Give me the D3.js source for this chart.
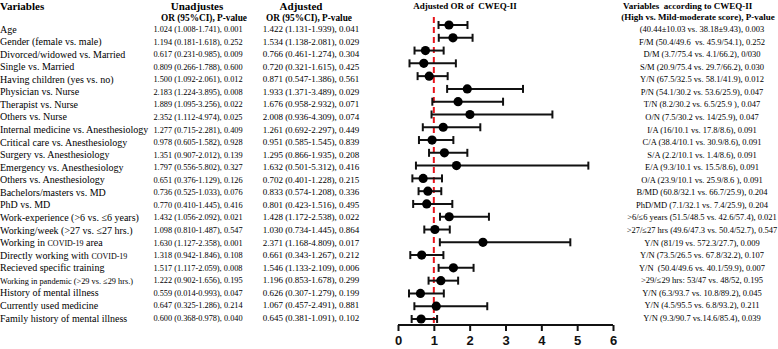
<!DOCTYPE html>
<html>
<head>
<meta charset="utf-8">
<script src="https://cdn.jsdelivr.net/npm/d3@7"></script>
<style>
  body { margin: 0; background: #fff; }
  svg { font-family: "Liberation Serif", "Times New Roman", serif; }
  text { white-space: pre; }
</style>
</head>
<body>
<script>
// table rows, top to bottom
var variables = [
    "Age", "Gender (female vs. male)", "Divorced/widowed vs. Married",
    "Single vs. Married", "Having children (yes vs. no)",
    "Physician vs. Nurse", "Therapist vs. Nurse", "Others vs. Nurse",
    "Internal medicine vs. Anesthesiology", "Critical care vs. Anesthesiology",
    "Surgery vs. Anesthesiology", "Emergency vs. Anesthesiology",
    "Others vs. Anesthesiology", "Bachelors/masters vs. MD", "PhD vs. MD",
    "Work-experience (>6 vs. \u22646 years)",
    "Working/week (>27 vs. \u226427 hrs.)",
    "Working in COVID-19 area", "Directly working with COVID-19",
    "Recieved specific training",
    "Working in pandemic (>29 vs. \u226429 hrs.)",
    "History of mental illness", "Currently used medicine",
    "Family history of mental illness"
];

var unadjusted = [
    "1.024 (1.008-1.741), 0.001", "1.194 (0.181-1.618), 0.252",
    "0.617 (0.231-0.985), 0.009", "0.809 (0.266-1.788), 0.600",
    "1.500 (1.092-2.061), 0.012", "2.183 (1.224-3.895), 0.008",
    "1.889 (1.095-3.256), 0.022", "2.352 (1.112-4.974), 0.025",
    "1.277 (0.715-2.281), 0.409", "0.978 (0.605-1.582), 0.928",
    "1.351 (0.907-2.012), 0.139", "1.797 (0.556-5.802), 0.327",
    "0.651 (0.376-1.129), 0.126", "0.736 (0.525-1.033), 0.076",
    "0.770 (0.410-1.445), 0.416", "1.432 (1.056-2.092), 0.021",
    "1.098 (0.810-1.487), 0.547", "1.630 (1.127-2.358), 0.001",
    "1.318 (0.942-1.846), 0.108", "1.517 (1.117-2.059), 0.008",
    "1.222 (0.902-1.656), 0.195", "0.559 (0.014-0.993), 0.047",
    "0.647 (0.325-1.286), 0.214", "0.600 (0.368-0.978), 0.040"
];

// adjusted odds ratios and 95% CI (also what the forest plot shows)
var orVals = [1.422, 1.534, 0.766, 0.720, 0.871, 1.933, 1.676, 2.008,
    1.261, 0.951, 1.295, 1.632, 0.702, 0.833, 0.801, 1.428, 1.030,
    2.371, 0.661, 1.546, 1.196, 0.626, 1.067, 0.645];
var ciLow = [1.131, 1.138, 0.461, 0.321, 0.547, 1.371, 0.958, 0.936,
    0.692, 0.585, 0.866, 0.501, 0.401, 0.574, 0.423, 1.172, 0.734,
    1.168, 0.343, 1.133, 0.853, 0.307, 0.457, 0.381];
var ciHigh = [1.939, 2.081, 1.274, 1.615, 1.386, 3.489, 2.932, 4.309,
    2.297, 1.545, 1.935, 5.312, 1.228, 1.208, 1.516, 2.538, 1.445,
    4.809, 1.267, 2.109, 1.678, 1.279, 2.491, 1.091];
var adjPvals = ["0.041", "0.029", "0.304", "0.425", "0.561", "0.029",
    "0.071", "0.074", "0.449", "0.839", "0.208", "0.416", "0.215",
    "0.336", "0.495", "0.022", "0.864", "0.017", "0.212", "0.006",
    "0.299", "0.199", "0.881", "0.102"];

var groupText = [
    "(40.44\u00b110.03 vs. 38.18\u00b19.43), 0.003",
    "F/M (50.4/49.6  vs. 45.9/54.1), 0.252",
    "D/M (3.7/75.4 vs. 4.1/66.2), 0/030",
    "S/M (20.9/75.4 vs. 29.7/66.2), 0.030",
    "Y/N (67.5/32.5 vs. 58.1/41.9), 0.012",
    "P/N (54.1/30.2 vs. 53.6/25.9), 0.047",
    "T/N (8.2/30.2 vs. 6.5/25.9 ), 0.047",
    "O/N (7.5/30.2 vs. 14/25.9), 0.047",
    "I/A (16/10.1 vs. 17.8/8.6), 0.091",
    "C/A (38.4/10.1 vs. 30.9/8.6), 0.091",
    "S/A (2.2/10.1 vs. 1.4/8.6), 0.091",
    "E/A (9.3/10.1 vs. 15.5/8.6), 0.091",
    "O/A (23.9/10.1 vs. 25.9/8.6 ), 0.091",
    "B/MD (60.8/32.1 vs. 66.7/25.9), 0.204",
    "PhD/MD (7.1/32.1 vs. 7.4/25.9), 0.204",
    ">6/\u22646 years (51.5/48.5 vs. 42.6/57.4), 0.021",
    ">27/\u226427 hrs (49.6/47.3 vs. 50.4/52.7), 0.547",
    "Y/N (81/19 vs. 572.3/27.7), 0.009",
    "Y/N (73.5/26.5 vs. 67.8/32.2), 0.107",
    "Y/N  (50.4/49.6 vs. 40.1/59.9), 0.007",
    ">29/\u226429 hrs: 53/47 vs. 48/52, 0.195",
    "Y/N (6.3/93.7 vs. 10.8/89.2), 0.045",
    "Y/N (4.5/95.5 vs. 6.8/93.2), 0.211",
    "Y/N (9.3/90.7 vs.14.6/85.4), 0.039"
];

var axisTicks = [0, 1, 2, 3, 4, 5, 6];

var width = 778, height = 349;

var svg = d3.select("body").append("svg")
    .attr("width", width)
    .attr("height", height);

// row positions
var yText = d3.scalePoint().domain(d3.range(variables.length)).range([29, 318]);
var yPlot = d3.scalePoint().domain(d3.range(variables.length)).range([25, 319]);
var x = d3.scaleLinear().domain([0, 6]).range([398, 613]);

// ---- headers ----
function header(txt, xPos, yPos, size, anchor) {
    return svg.append("text")
        .attr("x", xPos).attr("y", yPos)
        .attr("text-anchor", anchor || "middle")
        .style("font-weight", "bold")
        .style("font-size", size + "px")
        .text(txt);
}
header("Variables", 0, 10, 11, "start");
header("Unadjustes", 197, 10, 11);
header("OR (95%CI), P-value", 204, 21, 9.3);
header("Adjusted", 301, 10, 11);
header("OR (95%CI), P-value", 309, 21, 9.3);
header("Adjusted OR of  CWEQ-II", 465, 9, 9);
header("Variables  according to CWEQ-II", 623, 9, 9, "start");
header("(High vs. Mild-moderate score), P-value", 698, 20, 9);

// ---- variable names ----
var labels = svg.append("g").selectAll("text")
    .data(variables)
    .enter()
    .append("text")
    .attr("x", 0)
    .attr("y", function(d, i) { return yText(i) + 3.5; })
    .style("font-size", function(d) {
        return d.indexOf("pandemic") >= 0 ? "8.3px" : "10px";
    });

// "COVID-19" is set in a smaller size inside the labels
labels.each(function(d) {
    var t = d3.select(this);
    var parts = d.split("COVID-19");
    parts.forEach(function(p, k) {
        if (k > 0) t.append("tspan").style("font-size", "8px").text("COVID-19");
        if (p.length) t.append("tspan").text(p);
    });
});

// ---- OR columns ----
svg.append("g").selectAll("text")
    .data(unadjusted)
    .enter()
    .append("text")
    .attr("x", 198)
    .attr("y", function(d, i) { return yText(i) + 3; })
    .attr("text-anchor", "middle")
    .style("font-size", "8.3px")
    .text(function(d) { return d; });

svg.append("g").selectAll("text")
    .data(orVals)
    .enter()
    .append("text")
    .attr("x", 311)
    .attr("y", function(d, i) { return yText(i) + 3; })
    .attr("text-anchor", "middle")
    .style("font-size", "9px")
    .text(function(d, i) {
        return d.toFixed(3) + " (" + ciLow[i].toFixed(3) + "-" +
            ciHigh[i].toFixed(3) + "), " + adjPvals[i];
    });

// ---- right column ----
svg.append("g").selectAll("text")
    .data(groupText)
    .enter()
    .append("text")
    .attr("x", 702)
    .attr("y", function(d, i) { return yText(i) + 3; })
    .attr("text-anchor", "middle")
    .style("font-size", "8.5px")
    .text(function(d) { return d; });

// ---- forest plot ----
svg.append("line")
    .attr("x1", x(1)).attr("x2", x(1))
    .attr("y1", 17).attr("y2", 324)
    .style("stroke", "#e8141b")
    .style("stroke-width", 2)
    .style("stroke-dasharray", "6,4");

var rows = svg.append("g").selectAll("g")
    .data(orVals)
    .enter()
    .append("g")
    .attr("transform", function(d, i) { return "translate(0," + yPlot(i) + ")"; });

rows.append("line")
    .attr("x1", function(d, i) { return x(ciLow[i]); })
    .attr("x2", function(d, i) { return x(ciHigh[i]); })
    .style("stroke", "#111")
    .style("stroke-width", 2);

rows.append("line")
    .attr("x1", function(d, i) { return x(ciLow[i]); })
    .attr("x2", function(d, i) { return x(ciLow[i]); })
    .attr("y1", -4).attr("y2", 4)
    .style("stroke", "#111")
    .style("stroke-width", 2);

rows.append("line")
    .attr("x1", function(d, i) { return x(ciHigh[i]); })
    .attr("x2", function(d, i) { return x(ciHigh[i]); })
    .attr("y1", -4).attr("y2", 4)
    .style("stroke", "#111")
    .style("stroke-width", 2);

rows.append("circle")
    .attr("cx", function(d) { return x(d); })
    .attr("r", 4.6)
    .style("fill", "#000");

var axis = d3.axisBottom(x).tickValues(axisTicks).tickSize(6).tickPadding(5)
    .tickFormat(d3.format("d"));

var axisG = svg.append("g")
    .attr("transform", "translate(0,325)")
    .call(axis);

axisG.select(".domain")
    .attr("d", "M" + x(0) + ",0H" + x(6))
    .style("stroke", "#111")
    .style("stroke-width", 2);
axisG.selectAll(".tick line").style("stroke", "#111").style("stroke-width", 2);
axisG.selectAll(".tick text")
    .style("font-family", "'Liberation Sans', Arial, sans-serif")
    .style("font-weight", "bold")
    .style("font-size", "13px")
    .style("fill", "#111");
</script>
</body>
</html>
